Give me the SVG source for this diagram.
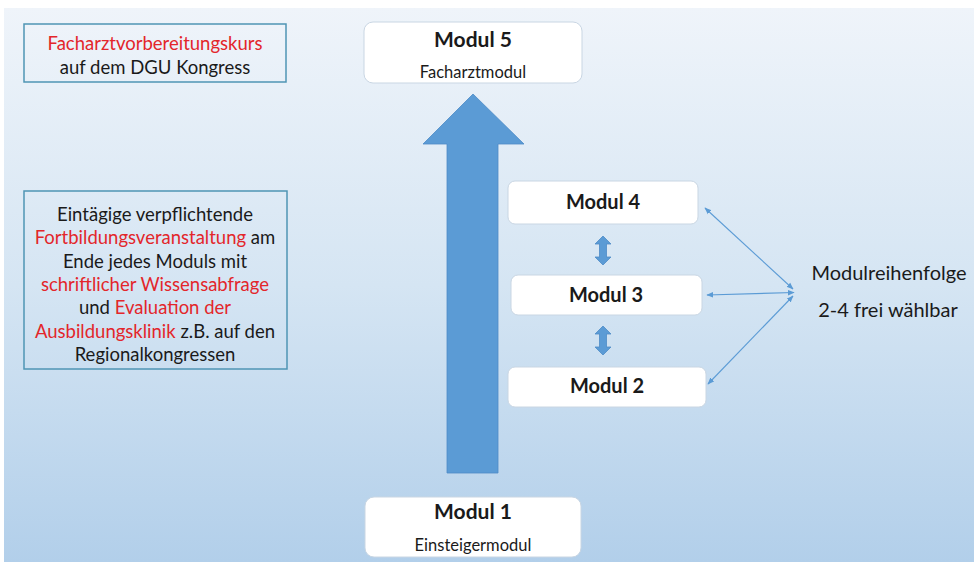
<svg xmlns="http://www.w3.org/2000/svg" width="974" height="562" viewBox="0 0 974 562">
<defs>
<linearGradient id="bg" x1="0" y1="0" x2="0" y2="1">
<stop offset="0" stop-color="#eff4fa"/>
<stop offset="0.5" stop-color="#d5e5f3"/>
<stop offset="1" stop-color="#b2cfea"/>
</linearGradient>
<marker id="ah" viewBox="0 0 10 10" refX="9" refY="5" markerWidth="7" markerHeight="7" orient="auto-start-reverse" markerUnits="userSpaceOnUse">
<path d="M0,1 L10,5 L0,9 Z" fill="#5b9bd5"/>
</marker>
<style>
.t{font-family:Lato,"Open Sans","Liberation Sans",sans-serif;fill:#1a1a1a;text-anchor:middle}
.r{fill:#e3262b}
.b{font-weight:bold}
.mod{fill:#ffffff;stroke:#c9d6e3;stroke-width:1}
.note{fill:none;stroke:#4f95b4;stroke-width:1.5}
.blk{fill:#5b9bd5;stroke:#4e8cc6;stroke-width:0.8}
.thin{fill:none;stroke:#5b9bd5;stroke-width:1.1}
</style>
</defs>
<rect x="0" y="0" width="974" height="562" fill="#ffffff"/>
<rect x="4" y="8" width="970" height="554" fill="url(#bg)"/>

<g id="note-kurs">
<rect class="note" x="24" y="24" width="262" height="58"/>
<text class="t r" x="155" y="50" font-size="18.5">Facharztvorbereitungskurs</text>
<text class="t" x="155" y="74" font-size="18.5">auf dem DGU Kongress</text>
</g>

<g id="note-fortbildung">
<rect class="note" x="24" y="191" width="263" height="178"/>
<text class="t" x="155" y="221" font-size="18.5">Eintägige verpflichtende</text>
<text class="t" x="155" y="244" font-size="18.5"><tspan class="r">Fortbildungsveranstaltung</tspan> am</text>
<text class="t" x="155" y="268" font-size="18.5">Ende jedes Moduls mit</text>
<text class="t r" x="155" y="291" font-size="18.5">schriftlicher Wissensabfrage</text>
<text class="t" x="155" y="314" font-size="18.5">und <tspan class="r">Evaluation der</tspan></text>
<text class="t" x="155" y="338" font-size="18.5"><tspan class="r">Ausbildungsklinik</tspan> z.B. auf den</text>
<text class="t" x="155" y="361" font-size="18.5">Regionalkongressen</text>
</g>

<g id="modul5">
<rect class="mod" x="364" y="22" width="218" height="61" rx="9"/>
<text class="t b" x="473" y="47" font-size="21">Modul 5</text>
<text class="t" x="473" y="78" font-size="16.5">Facharztmodul</text>
</g>

<g id="big-arrow">
<polygon class="blk" points="473,94 524,144 498,144 498,473 447,473 447,144 423,144"/>
</g>

<g id="modul4">
<rect class="mod" x="508" y="181" width="190" height="43" rx="7"/>
<text class="t b" x="603" y="209" font-size="20">Modul 4</text>
</g>
<g id="modul3">
<rect class="mod" x="511" y="275" width="191" height="40" rx="7"/>
<text class="t b" x="606" y="302" font-size="20">Modul 3</text>
</g>
<g id="modul2">
<rect class="mod" x="508" y="367" width="198" height="40" rx="7"/>
<text class="t b" x="607" y="393" font-size="20">Modul 2</text>
</g>

<g id="modul1">
<rect class="mod" x="365" y="497" width="216" height="60" rx="9"/>
<text class="t b" x="473" y="519" font-size="21">Modul 1</text>
<text class="t" x="473" y="551" font-size="16.5">Einsteigermodul</text>
</g>

<g id="label-reihenfolge">
<text class="t" x="889" y="280" font-size="20">Modulreihenfolge</text>
<text class="t" x="888" y="317" font-size="20">2-4 frei wählbar</text>
</g>

<g id="connectors">
<polygon class="blk" points="603,236 611,244 606.5,244 606.5,257 611,257 603,265 595,257 599.5,257 599.5,244 595,244"/>
<polygon class="blk" points="603,326 611,334 606.5,334 606.5,347 611,347 603,355 595,347 599.5,347 599.5,334 595,334"/>
<line class="thin" x1="793" y1="289" x2="705" y2="208" marker-start="url(#ah)" marker-end="url(#ah)"/>
<line class="thin" x1="794" y1="292.5" x2="707" y2="295" marker-start="url(#ah)" marker-end="url(#ah)"/>
<line class="thin" x1="793" y1="296" x2="708" y2="384" marker-start="url(#ah)" marker-end="url(#ah)"/>
</g>
</svg>
